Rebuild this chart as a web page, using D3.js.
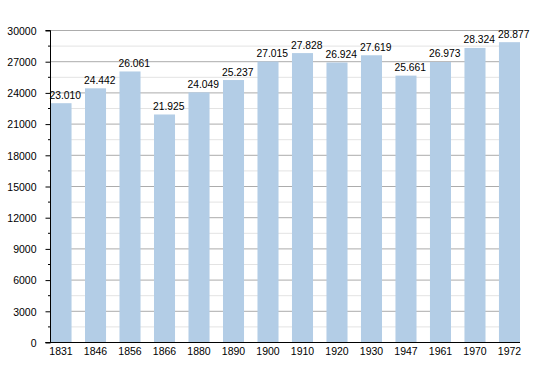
<!DOCTYPE html>
<html>
<head>
<meta charset="utf-8">
<script src="https://cdn.jsdelivr.net/npm/d3@7"></script>
<style>
  html, body { margin: 0; padding: 0; background: #fff; overflow: hidden; }
  svg { display: block; }
  svg text { font-family: "Liberation Sans", Arial, sans-serif; fill: #000; }
</style>
</head>
<body>
<div class="chart-wrapper"></div>
<script>
// population by census year
const years = ["1831", "1846", "1856", "1866", "1880", "1890", "1900", "1910", "1920", "1930", "1947", "1961", "1970", "1972"];
const population = [23010, 24442, 26061, 21925, 24049, 25237, 27015, 27828, 26924, 27619, 25661, 26973, 28324, 28877];
const yTicks = [0, 3000, 6000, 9000, 12000, 15000, 18000, 21000, 24000, 27000, 30000];
const yMinorTicks = [1500, 4500, 7500, 10500, 13500, 16500, 19500, 22500, 25500, 28500];

const svgWidth = 550;
const svgHeight = 373;
const margin = { top: 30.5, right: 30, bottom: 30.5, left: 50.5 };
const innerWidth = svgWidth - margin.left - margin.right;
const innerHeight = svgHeight - margin.top - margin.bottom;

const svg = d3.select(".chart-wrapper")
    .append("svg")
    .attr("width", svgWidth)
    .attr("height", svgHeight);

const chart = svg.append("g")
    .attr("transform", `translate(${margin.left},${margin.top})`);

const xScale = d3.scaleBand()
    .domain(years)
    .range([0, innerWidth])
    .paddingInner(0.39)
    .paddingOuter(0);

const yScale = d3.scaleLinear()
    .domain([0, 30000])
    .range([innerHeight, 0]);

// minor grid lines
chart.selectAll(".minor-grid")
    .data(yMinorTicks)
    .enter()
    .append("line")
    .attr("x1", 0)
    .attr("x2", innerWidth)
    .attr("y1", d => yScale(d))
    .attr("y2", d => yScale(d))
    .attr("stroke", "#e3e3e3");

// major grid lines
chart.selectAll(".major-grid")
    .data(yTicks.filter(d => d > 0))
    .enter()
    .append("line")
    .attr("x1", 0)
    .attr("x2", innerWidth)
    .attr("y1", d => yScale(d))
    .attr("y2", d => yScale(d))
    .attr("stroke", "#acacac");

// bars
chart.selectAll(".bar")
    .data(population)
    .enter()
    .append("rect")
    .attr("x", (d, i) => xScale(years[i]))
    .attr("y", d => yScale(d))
    .attr("width", xScale.bandwidth())
    .attr("height", d => innerHeight - yScale(d))
    .attr("fill", "#b3cde6");

// value labels, left aligned on bar
const fmt = d3.formatLocale({ decimal: ",", thousands: ".", grouping: [3], currency: ["", ""] }).format(",");
chart.selectAll(".bar-label")
    .data(population)
    .enter()
    .append("text")
    .attr("x", (d, i) => xScale(years[i]) - 1)
    .attr("y", d => yScale(d) - 4.5)
    .style("font-size", "10.3px")
    .text(d => fmt(d));

// minor ticks on y axis
chart.selectAll(".minor-tick")
    .data(yMinorTicks)
    .enter()
    .append("line")
    .attr("x1", -2.5)
    .attr("x2", 0)
    .attr("y1", d => yScale(d))
    .attr("y2", d => yScale(d))
    .attr("stroke", "#000");

// y axis
const yAxis = d3.axisLeft(yScale)
    .tickValues(yTicks)
    .tickSize(5)
    .tickPadding(9)
    .tickFormat(d => d);

const yG = chart.append("g")
    .call(yAxis);
yG.select(".domain").attr("stroke", "#000").attr("d", `M-5,${innerHeight}H0V0H-5`);
yG.selectAll("text").style("font-size", "10.5px").attr("dy", "0.36em");

// x axis
const xAxis = d3.axisBottom(xScale)
    .tickSize(0)
    .tickPadding(5);

const xG = chart.append("g")
    .attr("transform", `translate(0,${innerHeight})`)
    .call(xAxis);
xG.select(".domain").attr("stroke", "#000").attr("d", `M-5,0H${innerWidth}`);
xG.selectAll("text").style("font-size", "10.5px");
</script>
</body>
</html>
